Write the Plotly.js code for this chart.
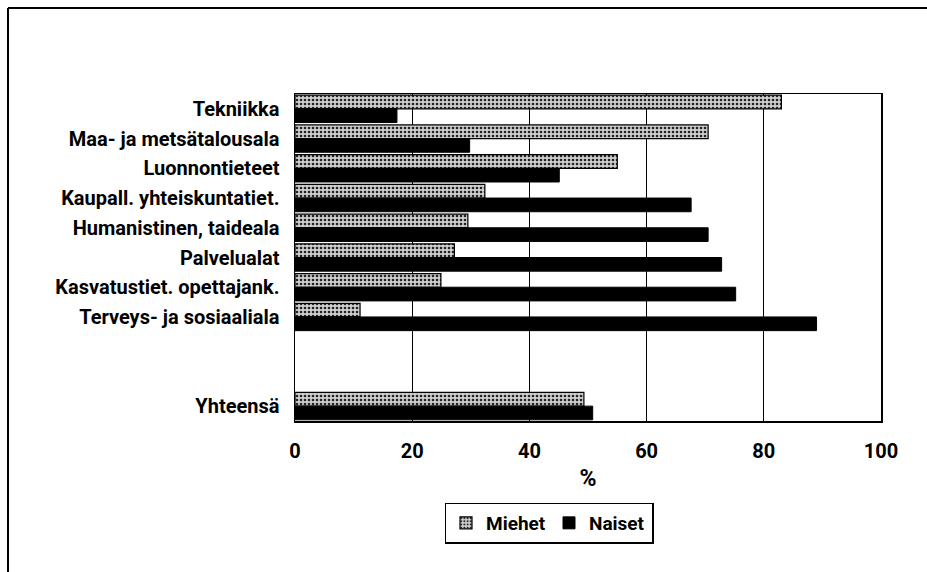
<!DOCTYPE html>
<html>
<head>
<meta charset="utf-8">
<script src="https://cdn.plot.ly/plotly-3.0.1.min.js"></script>
<style>html,body{margin:0;padding:0;background:#fff;}#chart{width:927px;height:572px;}</style>
</head>
<body>
<div id="chart"></div>
<script>
// Data
const categories = ["Tekniikka", "Maa- ja metsätalousala", "Luonnontieteet", "Kaupall. yhteiskuntatiet.", "Humanistinen, taideala", "Palvelualat", "Kasvatustiet. opettajank.", "Terveys- ja sosiaaliala", "Yhteensä"];
const categoryPos = [0, 1, 2, 3, 4, 5, 6, 7, 10];
const miehet = [83.0, 70.5, 55.0, 32.4, 29.5, 27.2, 24.9, 11.1, 49.3];
const naiset = [17.4, 29.8, 45.1, 67.6, 70.5, 72.8, 75.2, 89.0, 50.8];
const xTicks = [0, 20, 40, 60, 80, 100];

const FONT = "Roboto, 'Liberation Sans Narrow', 'Liberation Sans', sans-serif";

const traces = [
  {
    type: "bar", orientation: "h", name: "Miehet",
    y: categoryPos, x: miehet,
    marker: {
      color: "#ffffff",
      line: {color: "#000", width: 1.2},
      pattern: {shape: ".", fgcolor: "#222", bgcolor: "#cfcfcf", size: 4, solidity: 0.35}
    },
    hoverinfo: "x"
  },
  {
    type: "bar", orientation: "h", name: "Naiset",
    y: categoryPos, x: naiset,
    marker: {color: "#000", line: {color: "#000", width: 1}},
    hoverinfo: "x"
  }
];

const L = 295, R = 881, T = 94, B = 421, W = 927, H = 572;
const px = v => (v - L) / (R - L);
const py = v => (B - v) / (B - T);

const layout = {
  width: W, height: H,
  margin: {l: L, r: W - R, t: T, b: H - B, pad: 0},
  paper_bgcolor: "#fff", plot_bgcolor: "#fff",
  barmode: "group", bargap: 0.08, bargroupgap: 0,
  font: {family: FONT, color: "#000", size: 20, weight: "bold"},
  showlegend: true,
  legend: {
    orientation: "h", x: px(549), xanchor: "center", y: py(523), yanchor: "middle",
    bordercolor: "#000", borderwidth: 1.5, bgcolor: "#fff",
    font: {family: FONT, size: 19, weight: "bold", color: "#000"},
    itemwidth: 30, entrywidth: 58, entrywidthmode: "pixels", tracegroupgap: 0, traceorder: "normal"
  },
  xaxis: {
    range: [0, 100], tickvals: xTicks, ticktext: xTicks.map(String),
    showgrid: true, gridcolor: "#000", gridwidth: 1,
    zeroline: false, showline: true, linecolor: "#000", linewidth: 1.5, mirror: true,
    ticks: "", ticklabelstandoff: 11,
    tickfont: {family: FONT, size: 20, weight: "bold", color: "#000"},
    title: {text: "%", font: {family: FONT, size: 23, weight: "bold", color: "#000"}, standoff: 8},
    fixedrange: true
  },
  yaxis: {
    range: [10.5, -0.5], tickvals: categoryPos, ticktext: categories,
    showgrid: false, zeroline: false, showline: true, linecolor: "#000", linewidth: 1.5, mirror: true,
    ticks: "", ticklabelstandoff: 10,
    tickfont: {family: FONT, size: 20, weight: "bold", color: "#000"},
    fixedrange: true
  },
  shapes: [
    {type: "line", xref: "paper", yref: "paper", x0: px(8), x1: px(8), y0: py(8), y1: py(580), line: {color: "#000", width: 2}},
    {type: "line", xref: "paper", yref: "paper", x0: px(8), x1: px(940), y0: py(8), y1: py(8), line: {color: "#000", width: 2}}
  ]
};

Plotly.newPlot("chart", traces, layout, {displayModeBar: false, staticPlot: true});
</script>
</body>
</html>
